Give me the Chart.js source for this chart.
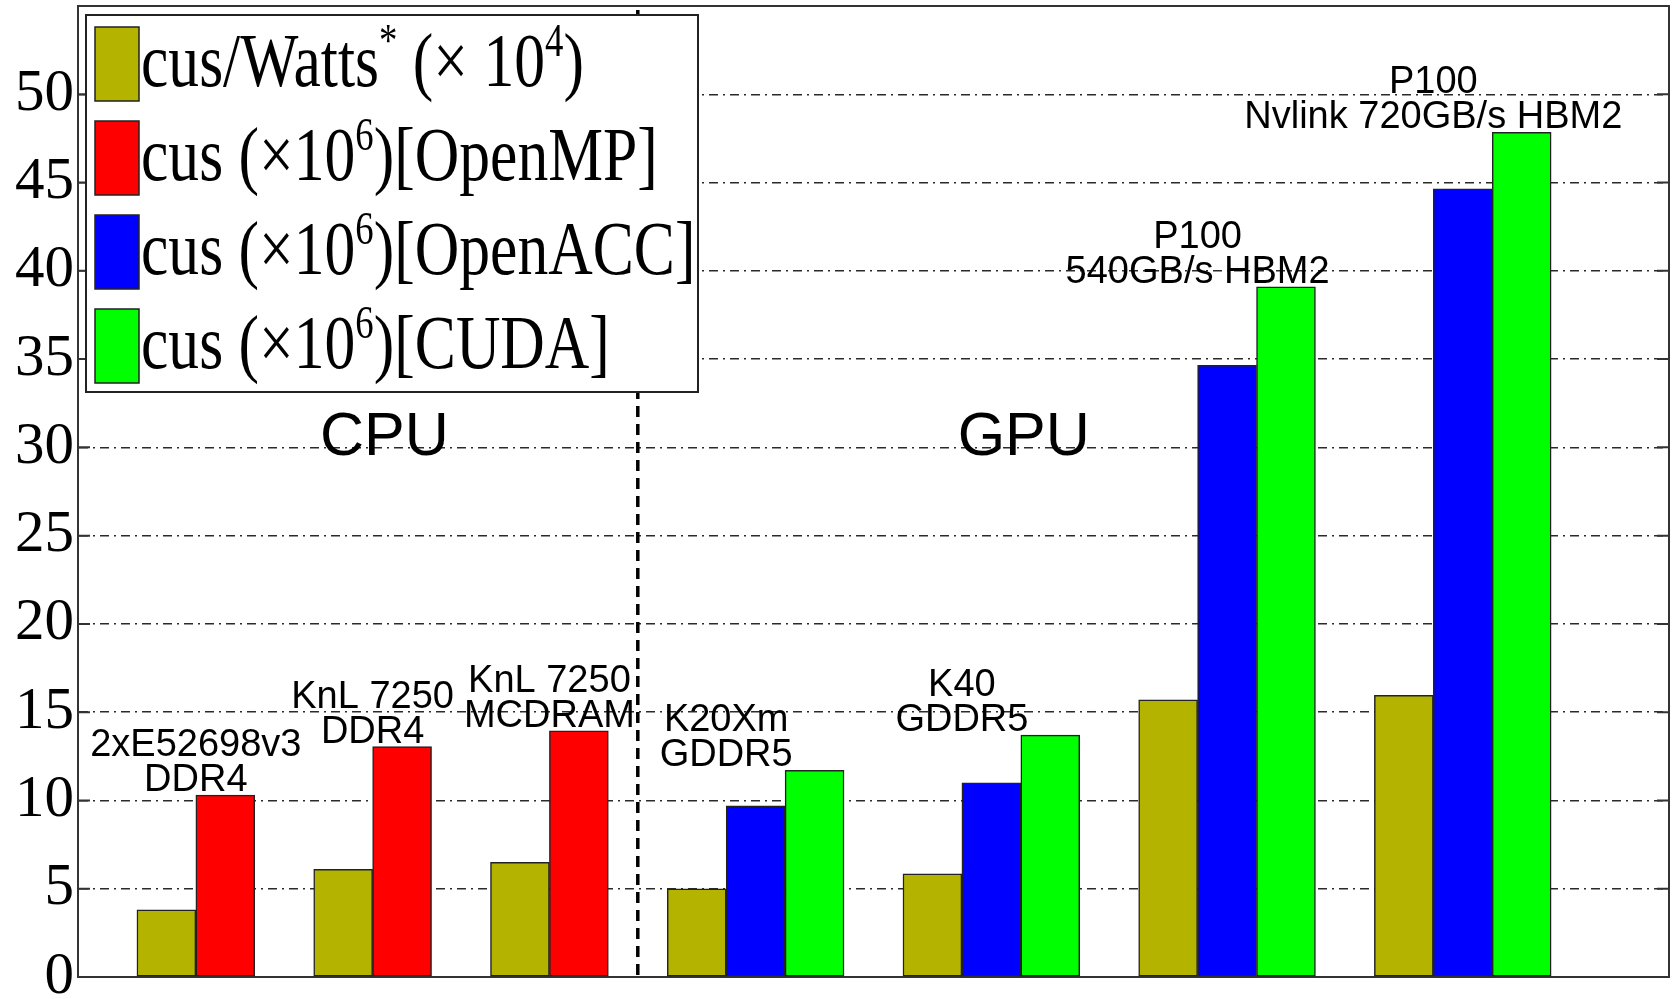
<!DOCTYPE html>
<html>
<head>
<meta charset="utf-8">
<title>cus por dispositivo</title>
<script src="https://cdn.jsdelivr.net/npm/chart.js@4.4.1/dist/chart.umd.min.js"></script>
<style>
    html, body { margin: 0; padding: 0; background: #fff; }
    #wrap { position: relative; width: 1672px; height: 999px; }
</style>
</head>
<body>
<div id="wrap"><canvas id="cusChart"></canvas></div>
<script>
// Dispositivos (dos líneas de etiqueta cada uno)
const deviceName = ['2xE52698v3', 'KnL 7250', 'KnL 7250', 'K20Xm', 'K40', 'P100', 'P100'];
const deviceMemory = ['DDR4', 'DDR4', 'MCDRAM', 'GDDR5', 'GDDR5', '540GB/s HBM2', 'Nvlink 720GB/s HBM2'];
const deviceKind = ['CPU', 'CPU', 'CPU', 'GPU', 'GPU', 'GPU', 'GPU'];

// Series (null = no se ejecutó en ese dispositivo)
const cusPerWatt = [3.8, 6.1, 6.5, 5.0, 5.85, 15.7, 15.95];
const cusOpenMP = [10.3, 13.05, 13.95, null, null, null, null];
const cusOpenACC = [null, null, null, 9.7, 11.0, 34.65, 44.65];
const cusCUDA = [null, null, null, 11.7, 13.7, 39.1, 47.85];

const seriesLabels = ['cus/Watts^* (× 10^4)', 'cus (×10^6)[OpenMP]', 'cus (×10^6)[OpenACC]', 'cus (×10^6)[CUDA]'];
const seriesColors = ['#b3b300', '#ff0000', '#0000ff', '#00ff00'];

// Eje Y
const yTicks = [0, 5, 10, 15, 20, 25, 30, 35, 40, 45, 50];
const yMax = 55;

// Cada barra ocupa un hueco del eje x, con un hueco vacío antes de cada dispositivo
function buildSlots() {
    const series = [cusPerWatt, cusOpenMP, cusOpenACC, cusCUDA];
    const points = series.map(() => []);
    const groupStart = [];
    let slot = 0;
    deviceName.forEach((_, i) => {
        slot += 1;
        groupStart.push(slot);
        series.forEach((values, s) => {
            if (values[i] === null) return;
            points[s].push({ x: slot + 0.5, y: values[i] });
            slot += 1;
        });
    });
    return { series, points, groupStart, xMax: slot + 2 };
}

const slots = buildSlots();

// Texto estilo TeX: el carácter detrás de ^ va como superíndice
function drawPiece(ctx, str, x, baseline, size, stretch) {
    ctx.font = `${size}px "Liberation Serif"`;
    ctx.save();
    ctx.translate(x, baseline);
    ctx.scale(stretch, 1);
    ctx.fillText(str, 0, 0);
    ctx.restore();
    return x + ctx.measureText(str).width * stretch;
}

function drawTexLabel(ctx, text, x, baseline, o) {
    let cursor = x;
    text.split('^').forEach((part, k) => {
        let body = part;
        if (k > 0) {
            cursor = drawPiece(ctx, part[0], cursor, baseline - o.supRaise, o.supSize, o.stretch);
            body = part.slice(1);
        }
        if (body) cursor = drawPiece(ctx, body, cursor, baseline, o.fontSize, o.stretch);
    });
}

// Separador CPU/GPU, nombres de dispositivo y rótulos de zona
const deviceNotes = {
    id: 'deviceNotes',
    afterDatasetsDraw(chart) {
        const { ctx, chartArea, scales: { x, y } } = chart;
        ctx.save();

        const firstGpu = deviceKind.indexOf('GPU');
        const sepX = x.getPixelForValue(slots.groupStart[firstGpu] - 0.5);
        ctx.setLineDash([11, 7]);
        ctx.lineWidth = 3.5;
        ctx.strokeStyle = '#000';
        ctx.beginPath();
        ctx.moveTo(sepX, chartArea.top + 4);
        ctx.lineTo(sepX, chartArea.bottom);
        ctx.stroke();
        ctx.setLineDash([]);

        ctx.fillStyle = '#000';
        ctx.textAlign = 'center';
        ctx.textBaseline = 'alphabetic';
        ctx.font = '38px "Liberation Sans"';
        deviceName.forEach((name, i) => {
            const tallest = Math.max(...slots.series.map(v => v[i]).filter(v => v !== null));
            const base = y.getPixelForValue(tallest) - 4;
            const cx = x.getPixelForValue(slots.groupStart[i] + 1);
            ctx.fillText(deviceMemory[i], cx, base);
            ctx.fillText(name, cx, base - 35);
        });

        ctx.font = '61px "Liberation Sans"';
        ctx.fillText('CPU', x.getPixelForValue(5.2), y.getPixelForValue(29.55));
        ctx.fillText('GPU', x.getPixelForValue(16.05), y.getPixelForValue(29.55));
        ctx.restore();
    }
};

// Caja de ejes: borde superior/derecho y marcas hacia dentro
const axesBox = {
    id: 'axesBox',
    afterDatasetsDraw(chart) {
        const { ctx, chartArea: a, scales: { y } } = chart;
        ctx.save();
        ctx.strokeStyle = '#333';
        ctx.lineWidth = 2;
        ctx.beginPath();
        ctx.moveTo(a.left, a.top);
        ctx.lineTo(a.right, a.top);
        ctx.lineTo(a.right, a.bottom);
        yTicks.forEach(v => {
            const py = y.getPixelForValue(v);
            ctx.moveTo(a.left, py);
            ctx.lineTo(a.left + 12, py);
            ctx.moveTo(a.right, py);
            ctx.lineTo(a.right - 12, py);
        });
        ctx.stroke();
        ctx.restore();
    }
};

// Leyenda dibujada a mano por los superíndices
const texLegend = {
    id: 'texLegend',
    afterDraw(chart, args, o) {
        const { ctx } = chart;
        const b = o.box;
        ctx.save();
        ctx.fillStyle = '#fff';
        ctx.fillRect(b.left, b.top, b.right - b.left, b.bottom - b.top);
        ctx.lineWidth = 2;
        ctx.strokeStyle = '#222';
        ctx.strokeRect(b.left, b.top, b.right - b.left, b.bottom - b.top);

        chart.data.datasets.forEach((ds, i) => {
            const top = o.firstRow + i * o.rowStep;
            ctx.fillStyle = ds.backgroundColor;
            ctx.fillRect(o.swatchX, top, o.swatchW, o.swatchH);
            ctx.lineWidth = 1.5;
            ctx.strokeStyle = '#222';
            ctx.strokeRect(o.swatchX, top, o.swatchW, o.swatchH);
            ctx.fillStyle = '#000';
            ctx.textAlign = 'left';
            ctx.textBaseline = 'alphabetic';
            drawTexLabel(ctx, ds.label, o.textX, top + o.baseline, o);
        });
        ctx.restore();
    }
};

class CusChart {
    constructor() {
        this.chart = null;
        this.init();
    }

    init() {
        const ctx = document.getElementById('cusChart');
        this.chart = new Chart(ctx, {
            type: 'bar',
            data: {
                datasets: slots.points.map((pts, s) => ({
                    label: seriesLabels[s],
                    data: pts,
                    backgroundColor: seriesColors[s],
                    borderColor: '#222',
                    borderWidth: 1.5,
                    borderSkipped: false,
                    grouped: false,
                    barPercentage: 1,
                    categoryPercentage: 1
                }))
            },
            options: {
                responsive: true,
                maintainAspectRatio: false,
                animation: false,
                events: [],
                layout: { padding: { top: 6, right: 3, bottom: 22, left: 0 } },
                plugins: {
                    legend: { display: false },
                    tooltip: { enabled: false },
                    texLegend: {
                        box: { left: 86, top: 15, right: 698, bottom: 392 },
                        swatchX: 95, swatchW: 44, swatchH: 74,
                        firstRow: 27, rowStep: 94, baseline: 59,
                        textX: 141,
                        fontSize: 77, supSize: 46, supRaise: 30, stretch: 0.80
                    }
                },
                scales: {
                    x: {
                        type: 'linear',
                        offset: false,
                        min: 0,
                        max: slots.xMax,
                        ticks: { display: false, stepSize: 1 },
                        grid: { display: false, drawTicks: false, offset: false },
                        border: { display: true, color: '#333', width: 2 },
                        afterFit: (s) => { s.height = 0; s.paddingLeft = 0; s.paddingRight = 0; }
                    },
                    y: {
                        min: 0,
                        max: yMax,
                        ticks: {
                            stepSize: 5,
                            padding: 4,
                            color: '#000',
                            font: { family: 'Liberation Serif', size: 59 },
                            callback: (v) => yTicks.includes(v) ? v : ''
                        },
                        grid: {
                            drawTicks: false,
                            lineWidth: 1.5,
                            color: (c) => (c.tick && c.tick.value > 0 && c.tick.value < yMax) ? '#2b2b2b' : 'rgba(0,0,0,0)'
                        },
                        border: { display: true, color: '#333', width: 2, dash: [9, 5, 2, 5] },
                        afterFit: (s) => { s.width = 78; s.paddingTop = 0; s.paddingBottom = 0; }
                    }
                }
            },
            plugins: [deviceNotes, axesBox, texLegend]
        });
    }
}

document.addEventListener('DOMContentLoaded', () => {
    new CusChart();
});
</script>
</body>
</html>
